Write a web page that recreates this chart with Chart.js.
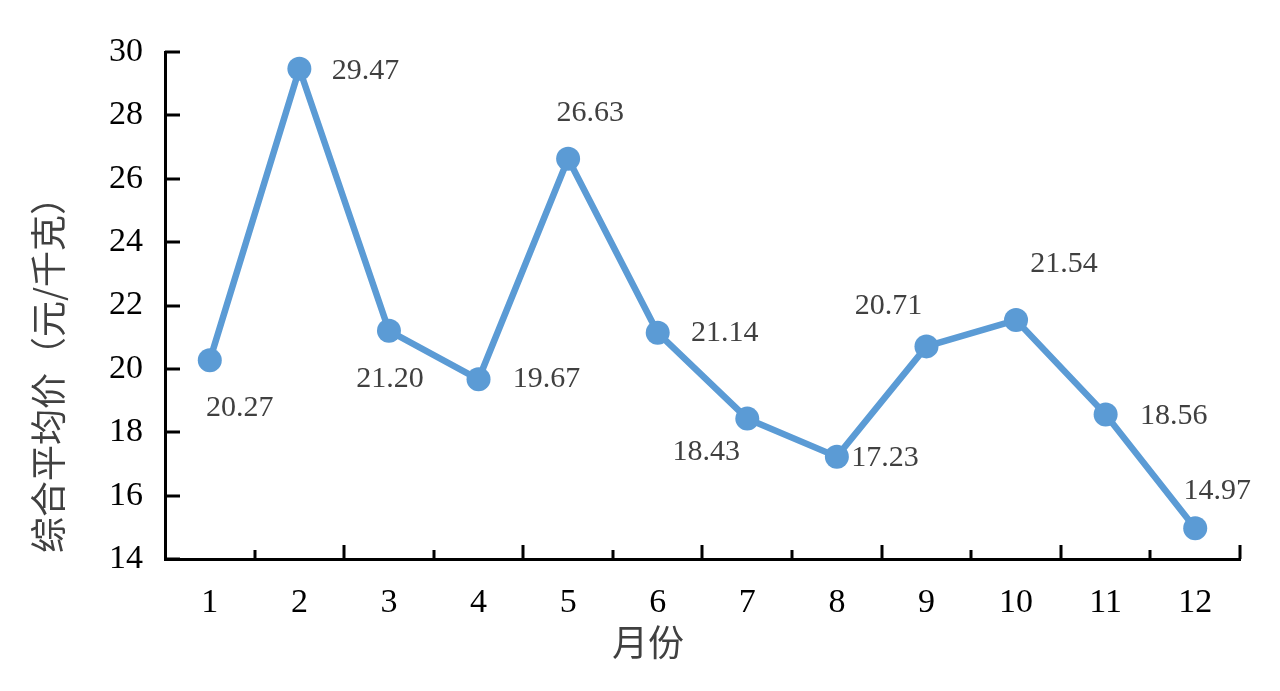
<!DOCTYPE html>
<html>
<head>
<meta charset="utf-8">
<script src="https://cdn.jsdelivr.net/npm/chart.js@4/dist/chart.umd.min.js"></script>
<style>
  html, body { margin: 0; padding: 0; background: #fff; }
  #wrap { width: 1280px; height: 691px; position: relative; }
</style>
</head>
<body>
<div id="wrap"><canvas id="priceChart"></canvas></div>
<script>
// data
const months = ['1', '2', '3', '4', '5', '6', '7', '8', '9', '10', '11', '12'];
const avgPrice = [20.27, 29.47, 21.20, 19.67, 26.63, 21.14, 18.43, 17.23, 20.71, 21.54, 18.56, 14.97];
const yTicks = [14, 16, 18, 20, 22, 24, 26, 28, 30];

const yTitle = '综合平均价（元/千克）';
const xTitle = '月份';

// where each value label sits relative to its point (px)
const labelOffsets = [
    [30, 48], [66, 2], [1, 48], [68, 0], [22, -46], [67, 0],
    [-41, 34], [48, 1], [-38, -40], [48, -56], [68, 2], [22, -37]
];

const serif = '"Liberation Serif", "Times New Roman", serif';
const cjk = '"Noto Sans CJK SC", sans-serif';
const blue = '#5B9BD5';

// tick marks inside the axes, axis titles and value labels
const decorations = {
    id: 'decorations',
    afterDraw(chart) {
        const ctx = chart.ctx;
        const x = chart.scales.x, y = chart.scales.y;
        const area = chart.chartArea;
        ctx.save();
        ctx.strokeStyle = '#000';
        ctx.lineWidth = 3;

        // y ticks pointing right
        yTicks.forEach(v => {
            const py = Math.round(y.getPixelForValue(v));
            ctx.beginPath();
            ctx.moveTo(area.left, py);
            ctx.lineTo(area.left + 15, py);
            ctx.stroke();
        });

        // x ticks between categories, every other one longer
        const step = x.getPixelForValue(1) - x.getPixelForValue(0);
        for (let b = 1; b <= months.length; b++) {
            const px = Math.round(x.getPixelForValue(b - 1) + step / 2);
            const len = b % 2 === 0 ? 14 : 9;
            ctx.beginPath();
            ctx.moveTo(px, area.bottom);
            ctx.lineTo(px, area.bottom - len);
            ctx.stroke();
        }

        // axis titles
        ctx.fillStyle = '#404040';
        ctx.font = '36px ' + cjk;
        ctx.textAlign = 'center';
        ctx.textBaseline = 'middle';
        ctx.fillText(xTitle, 648, 642);
        ctx.translate(48, 366);
        ctx.rotate(-Math.PI / 2);
        ctx.fillText(yTitle, 0, 0);
        ctx.restore();

        // value labels
        ctx.save();
        ctx.fillStyle = '#404040';
        ctx.font = '30px ' + serif;
        ctx.textAlign = 'center';
        ctx.textBaseline = 'middle';
        const meta = chart.getDatasetMeta(0);
        meta.data.forEach((pt, i) => {
            const off = labelOffsets[i];
            ctx.fillText(avgPrice[i].toFixed(2), pt.x + off[0], pt.y + off[1]);
        });
        ctx.restore();
    }
};

new Chart(document.getElementById('priceChart'), {
    type: 'line',
    data: {
        labels: months,
        datasets: [{
            data: avgPrice,
            borderColor: blue,
            backgroundColor: blue,
            borderWidth: 6.5,
            pointRadius: 12,
            pointHoverRadius: 12,
            pointBackgroundColor: blue,
            pointBorderColor: blue,
            pointBorderWidth: 0,
            tension: 0,
            clip: false
        }]
    },
    options: {
        responsive: true,
        maintainAspectRatio: false,
        animation: false,
        layout: { padding: { top: 52, right: 40, bottom: 0, left: 0 } },
        plugins: {
            legend: { display: false },
            tooltip: { enabled: false }
        },
        scales: {
            x: {
                offset: true,
                grid: { display: false, drawTicks: false },
                border: { display: true, color: '#000', width: 3 },
                ticks: {
                    color: '#000',
                    font: { family: serif, size: 34 },
                    padding: 24,
                    maxRotation: 0
                },
                afterFit(scale) { scale.height = 132; }
            },
            y: {
                min: 14,
                max: 30,
                grid: { display: false, drawTicks: false },
                border: { display: true, color: '#000', width: 3 },
                afterBuildTicks(scale) {
                    scale.ticks = yTicks.map(v => ({ value: v }));
                },
                ticks: {
                    color: '#000',
                    font: { family: serif, size: 34 },
                    padding: 22
                },
                afterFit(scale) { scale.width = 165; }
            }
        }
    },
    plugins: [decorations]
});
</script>
</body>
</html>
